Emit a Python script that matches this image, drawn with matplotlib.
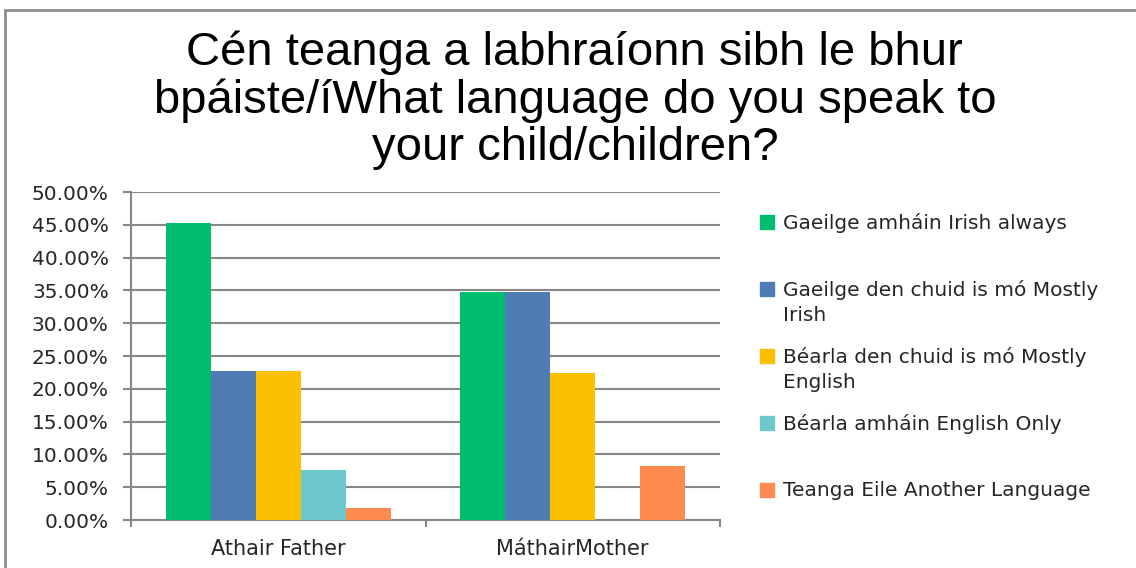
import numpy as np
import matplotlib
matplotlib.use("Agg")
import matplotlib.pyplot as plt
from matplotlib.patches import Rectangle
from matplotlib.ticker import FuncFormatter

categories = ["Athair Father", "MáthairMother"]
series_names = [
    "Gaeilge amháin Irish always",
    "Gaeilge den chuid is mó Mostly\nIrish",
    "Béarla den chuid is mó Mostly\nEnglish",
    "Béarla amháin English Only",
    "Teanga Eile Another Language",
]
series_colors = ["#00BE6E", "#4F7CB4", "#F9BF00", "#6CC8CC", "#FF8A4F"]
father_values = [45.28, 22.64, 22.64, 7.55, 1.89]
mother_values = [34.69, 34.69, 22.45, 0.0, 8.16]
yticks = [0, 5, 10, 15, 20, 25, 30, 35, 40, 45, 50]

title = "Cén teanga a labhraíonn sibh le bhur\nbpáiste/íWhat language do you speak to\nyour child/children?"

grid_col = "#878787"
txt_col = "#262626"

fig = plt.figure(figsize=(11.36, 5.68), dpi=100)
fig.patch.set_facecolor("white")

# outer chart border (runs off the right and bottom edges)
fig.patches.append(Rectangle((5 / 1136, -0.1), 1.2, (558 / 568) + 0.1,
                             transform=fig.transFigure, fill=False,
                             edgecolor="#8c8c8c", lw=2))

ax = fig.add_axes([131 / 1136, 48 / 568, 589 / 1136, 328 / 568])

values = np.array([father_values, mother_values])
x = np.arange(len(categories))
bw = 39 / 255
for i in range(len(series_names)):
    offs = (i - 2) * bw
    ax.bar(x + offs, values[:, i], width=bw, color=series_colors[i], zorder=3)

ax.set_xlim(-0.5, 1.5)
ax.set_ylim(0, 50)
ax.set_yticks(yticks)
ax.yaxis.set_major_formatter(FuncFormatter(lambda v, p: "%.2f%%" % v))
ax.yaxis.grid(True, color=grid_col, lw=1.5, zorder=0)
ax.set_axisbelow(True)

ax.set_xticks(x)
ax.set_xticklabels(categories)
ax.set_xticks([-0.5, 0.5, 1.5], minor=True)
ax.tick_params(axis="x", which="major", length=0, pad=14, labelsize=15, labelcolor=txt_col)
ax.tick_params(axis="x", which="minor", length=5, width=1.5, color=grid_col)
ax.tick_params(axis="y", length=6, width=1.5, color=grid_col, pad=10, labelsize=14.5, labelcolor=txt_col)

for s in ["top", "right"]:
    ax.spines[s].set_visible(False)
for s in ["left", "bottom"]:
    ax.spines[s].set_color(grid_col)
    ax.spines[s].set_linewidth(1.5)

fig.text(0.506, 1 - 100 / 568, title, ha="center", va="center",
         fontsize=34, family=["Liberation Sans Narrow", "Liberation Sans"],
         linespacing=1.1, color="black")

# legend, one slot per series
for i, name in enumerate(series_names):
    yc = 1 - (223 + 67 * i) / 568
    fig.patches.append(Rectangle((760 / 1136, yc - 6 / 568), 14 / 1136, 14 / 568,
                                 transform=fig.transFigure, color=series_colors[i]))
    fig.text(783 / 1136, yc + 10 / 568, name, ha="left", va="top",
             fontsize=14.5, color=txt_col, linespacing=1.4)

fig.savefig("out.png", dpi=100)
